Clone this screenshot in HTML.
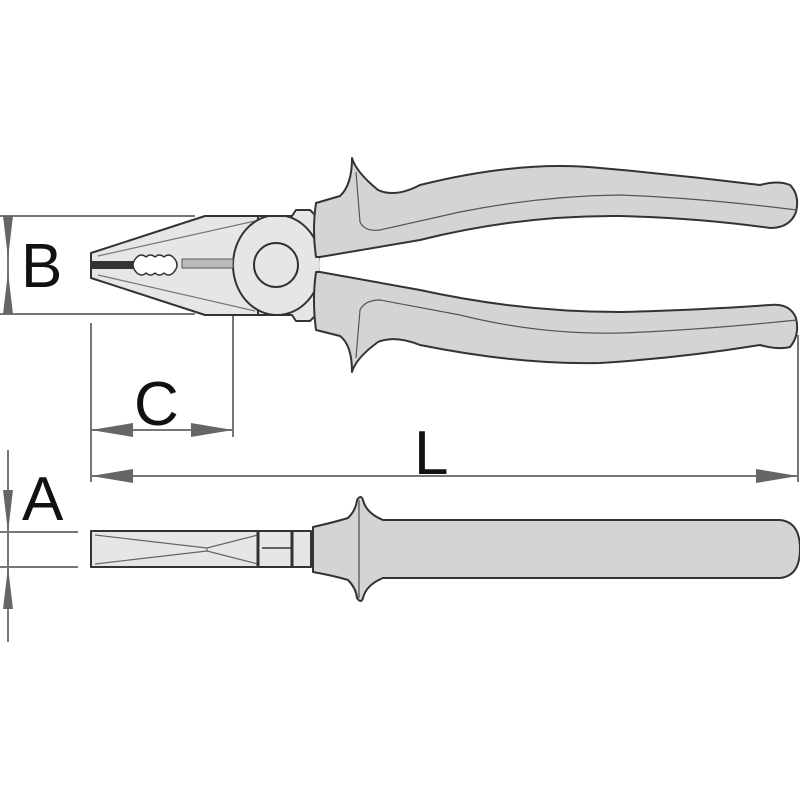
<!DOCTYPE html>
<html><head><meta charset="utf-8"><style>html,body{margin:0;padding:0;background:#fff}svg{display:block}</style></head>
<body>
<svg width="800" height="800" viewBox="0 0 800 800" xmlns="http://www.w3.org/2000/svg">
<defs>
<clipPath id="hc"><rect x="200" y="216" width="120" height="99"/></clipPath>
</defs>
<g stroke="#777" stroke-width="2" fill="none">
<line x1="0" y1="216" x2="195" y2="216"/>
<line x1="0" y1="314" x2="195" y2="314"/>
<line x1="8" y1="216" x2="8" y2="314"/>
<line x1="91" y1="323" x2="91" y2="482"/>
<line x1="233" y1="283" x2="233" y2="437"/>
<line x1="91" y1="430" x2="233" y2="430"/>
<line x1="91" y1="476" x2="798" y2="476"/>
<line x1="798" y1="335" x2="798" y2="482"/>
<line x1="0" y1="532" x2="78" y2="532"/>
<line x1="0" y1="567" x2="78" y2="567"/>
<line x1="8" y1="450" x2="8" y2="642"/>
</g>
<g fill="#666">
<path d="M3,216 L8,258 L13,216Z"/>
<path d="M3,314 L8,272 L13,314Z"/>
<path d="M91,430 L133,423 L133,437Z"/>
<path d="M233,430 L191,423 L191,437Z"/>
<path d="M91,476 L133,469 L133,483Z"/>
<path d="M798,476 L756,469 L756,483Z"/>
<path d="M3,490 L8,532 L13,490Z"/>
<path d="M3,609 L8,567 L13,609Z"/>
</g>
<g font-family="Liberation Sans, sans-serif" fill="#111" font-size="62">
<text x="21" y="287">B</text>
<text x="134" y="425">C</text>
<text x="414" y="474">L</text>
<text x="22" y="520">A</text>
</g>
<g stroke="#333" stroke-width="2" stroke-linejoin="round">
<path d="M91,253 L205,216 L258,216 L262,222 L262,308 L258,315 L205,315 L91,278 Z" fill="#e6e6e6"/>
<path d="M98,256 L255,221" fill="none" stroke="#777" stroke-width="1.2"/>
<path d="M98,275 L255,311" fill="none" stroke="#777" stroke-width="1.2"/>
<path d="M292,216 L296,210 L310,210 L316,216 L316,315 L310,321 L296,321 L292,315 L258,315 L258,216 Z" fill="#e6e6e6" stroke="#333"/>
<ellipse cx="277" cy="265" rx="44" ry="50" fill="#e6e6e6" clip-path="url(#hc)"/>
<line x1="250" y1="216" x2="292" y2="216"/>
<line x1="250" y1="315" x2="292" y2="315"/>
<circle cx="276" cy="265" r="22" fill="#e6e6e6"/>
<path d="M91,261 L133,261 L133,269 L91,269 Z" fill="#333" stroke="none"/>
<path d="M182,259 L233,259 L233,268 L182,268 Z" fill="#bbb" stroke="#555" stroke-width="1"/>
<path d="M137,257 q4.5,-4 9,0 q4.5,-4 9,0 q4.5,-4 9,0 q4.5,-4 9,0 q8,8 0,16 q-4.5,4 -9,0 q-4.5,4 -9,0 q-4.5,4 -9,0 q-4.5,4 -9,0 q-8,-8 0,-16 Z" fill="#fff" stroke-width="1.5"/>
</g>
<g stroke="#333" stroke-width="2" fill="#d4d4d4" stroke-linejoin="round">
<path d="M316,203 L340,196 Q352,185 352,158 Q356,172 378,190 Q395,198 420,185 Q520,160 600,168 Q680,175 760,185 Q778,180 790,185 Q800,195 796,212 Q790,228 770,228 Q700,218 620,216 Q520,215 420,240 L320,257 L316,257 Q312,230 316,203 Z"/>
<path d="M356,172 L360,222 Q365,232 380,230 L460,212 Q540,196 620,195 Q700,198 797,210" fill="none" stroke="#555" stroke-width="1.2"/>
<path d="M316,330 L340,336 Q352,345 352,372 Q356,358 378,342 Q395,335 420,345 Q520,365 600,363 Q680,358 760,345 Q778,350 790,347 Q800,335 796,318 Q790,303 770,305 Q700,310 620,312 Q520,312 420,290 L320,272 L316,272 Q312,300 316,330 Z"/>
<path d="M356,358 L360,310 Q365,300 380,300 L460,315 Q540,335 620,333 Q700,330 797,320" fill="none" stroke="#555" stroke-width="1.2"/>
</g>
<g stroke="#333" stroke-width="2" stroke-linejoin="round">
<rect x="91" y="531" width="220" height="36" fill="#e6e6e6"/>
<path d="M95,535 L207,548 L258,535 M95,564 L207,551 L258,564 M207,548 L207,551" fill="none" stroke="#666" stroke-width="1.2"/>
<line x1="258" y1="531" x2="258" y2="567" stroke-width="3"/>
<line x1="292" y1="531" x2="292" y2="567" stroke-width="3"/>
<line x1="262" y1="548" x2="291" y2="548" stroke-width="1.5"/>
<path d="M313,527 Q335,522 348,518 Q356,510 357,500 Q361,494 363,500 Q366,513 383,520 L780,520 Q800,522 800,549 Q800,576 780,578 L383,578 Q366,585 363,598 Q361,604 357,598 Q356,588 348,580 Q335,576 313,572 Z" fill="#d4d4d4"/>
<line x1="359" y1="500" x2="359" y2="598" stroke="#666" stroke-width="1.5"/>
</g>
</svg>
</body></html>
